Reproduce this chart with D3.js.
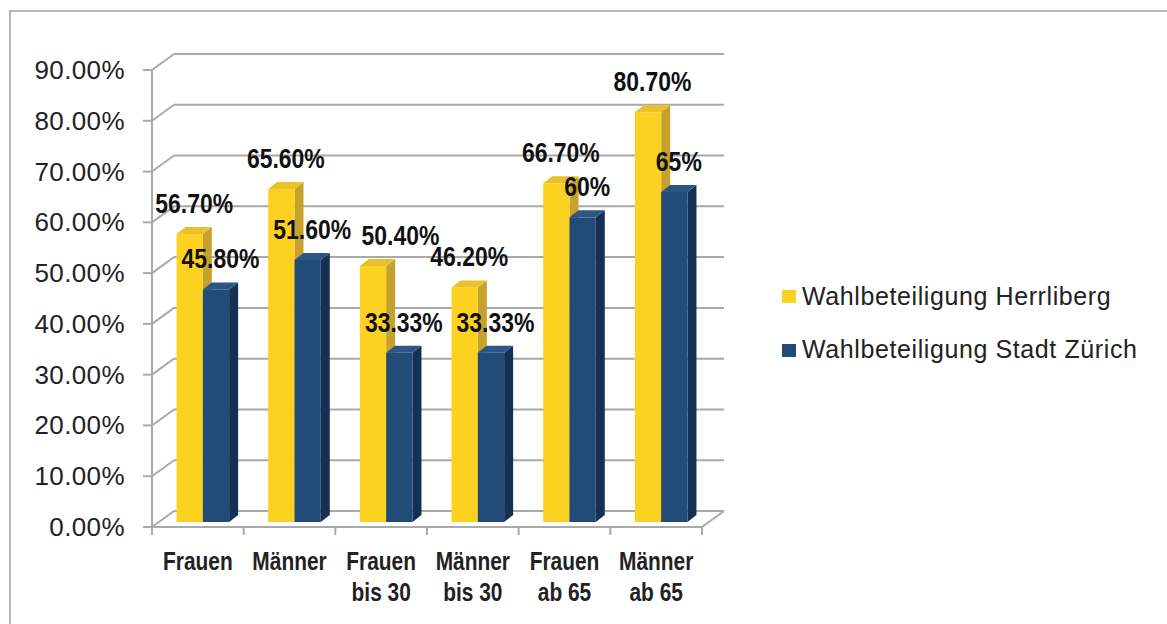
<!DOCTYPE html>
<html>
<head>
<meta charset="utf-8">
<script src="https://cdn.jsdelivr.net/npm/d3@7"></script>
<style>
  body { margin: 0; background: #ffffff; }
  svg { display: block; }
</style>
</head>
<body>
<div id="chart"></div>
<script>
const categories = [['Frauen'], ['Männer'], ['Frauen', 'bis 30'], ['Männer', 'bis 30'], ['Frauen', 'ab 65'], ['Männer', 'ab 65']];
const herrliberg = [56.7, 65.6, 50.4, 46.2, 66.7, 80.7];
const zuerich = [45.8, 51.6, 33.33, 33.33, 60, 65];
const herrlibergLabels = ['56.70%', '65.60%', '50.40%', '46.20%', '66.70%', '80.70%'];
const zuerichLabels = ['45.80%', '51.60%', '33.33%', '33.33%', '60%', '65%'];
const seriesNames = ['Wahlbeteiligung Herrliberg', 'Wahlbeteiligung Stadt Zürich'];
const yTicks = [0, 10, 20, 30, 40, 50, 60, 70, 80, 90];

const W = 1167, H = 624;
const plot = { left: 152, right: 702, top: 70, bottom: 527 };

// 3D offsets: back wall, bar front plane, bar depth
const wall = { dx: 22, dy: -16 };
const barOff = { dx: 5, dy: -5 };
const depth = { dx: 9, dy: -7 };

const colors = [
  { front: '#fdd11f', top: '#e9c22b', side: '#c6a22d' },
  { front: '#224b78', top: '#2c5686', side: '#152f55' }
];

const svg = d3.select('#chart')
  .append('svg')
  .attr('width', W)
  .attr('height', H);

// outer frame
svg.append('rect')
  .attr('x', 10)
  .attr('y', 11)
  .attr('width', W + 20)
  .attr('height', H + 20)
  .attr('fill', 'none')
  .attr('stroke', '#a0a0a0')
  .attr('stroke-width', 1.5);

const x = d3.scaleBand()
  .domain(d3.range(categories.length))
  .range([plot.left, plot.right]);

const y = d3.scaleLinear()
  .domain([0, 90])
  .range([plot.bottom, plot.top]);

const gridColor = '#a9a9a9';
const grid = svg.append('g')
  .attr('fill', 'none')
  .attr('stroke', gridColor)
  .attr('stroke-width', 2);

// back wall lines + diagonals from the front axis
yTicks.forEach(t => {
  grid.append('line')
    .attr('x1', plot.left + wall.dx)
    .attr('x2', plot.right + wall.dx)
    .attr('y1', y(t) + wall.dy)
    .attr('y2', y(t) + wall.dy);
  grid.append('line')
    .attr('x1', plot.left)
    .attr('x2', plot.left + wall.dx)
    .attr('y1', y(t))
    .attr('y2', y(t) + wall.dy);
  grid.append('line')
    .attr('x1', plot.left - 9)
    .attr('x2', plot.left)
    .attr('y1', y(t))
    .attr('y2', y(t));
});

// front axis + floor edge
grid.append('line')
  .attr('x1', plot.left).attr('x2', plot.left)
  .attr('y1', y(90)).attr('y2', y(0));
grid.append('line')
  .attr('x1', plot.left).attr('x2', plot.right)
  .attr('y1', y(0)).attr('y2', y(0));
grid.append('line')
  .attr('x1', plot.right).attr('x2', plot.right + wall.dx)
  .attr('y1', y(0)).attr('y2', y(0) + wall.dy);

// x ticks at category edges
d3.range(categories.length + 1).forEach(i => {
  const xx = plot.left + i * x.bandwidth();
  grid.append('line')
    .attr('x1', xx).attr('x2', xx)
    .attr('y1', y(0)).attr('y2', y(0) + 8);
});

// y axis labels
svg.append('g')
  .selectAll('text')
  .data(yTicks)
  .join('text')
  .attr('x', 125)
  .attr('y', d => y(d) + 9)
  .attr('text-anchor', 'end')
  .attr('font-family', 'Liberation Sans, Arial, sans-serif')
  .attr('font-size', 26)
  .attr('letter-spacing', 0.4)
  .attr('fill', '#222')
  .text(d => d.toFixed(2) + '%');

// bars
const barW = 26.3;
const bars = svg.append('g');
const series = [herrliberg, zuerich];

function drawBar(x0, v, c) {
  const yb = y(0) + barOff.dy;
  const yt = y(v) + barOff.dy;
  const x1 = x0 + barW;
  // side
  bars.append('path')
    .attr('d', `M${x1},${yt}L${x1 + depth.dx},${yt + depth.dy}L${x1 + depth.dx},${yb + depth.dy}L${x1},${yb}Z`)
    .attr('fill', c.side);
  // top
  bars.append('path')
    .attr('d', `M${x0},${yt}L${x0 + depth.dx},${yt + depth.dy}L${x1 + depth.dx},${yt + depth.dy}L${x1},${yt}Z`)
    .attr('fill', c.top);
  // front
  bars.append('rect')
    .attr('x', x0)
    .attr('y', yt)
    .attr('width', barW)
    .attr('height', yb - yt)
    .attr('fill', c.front);
}

categories.forEach((c, i) => {
  const cx = x(i) + x.bandwidth() / 2 + barOff.dx;
  series.forEach((s, j) => {
    drawBar(cx - barW + j * barW, s[i], colors[j]);
  });
});

// condensed bold text: regular bold squeezed horizontally
const labelFont = 'Liberation Sans, Arial, sans-serif';
const squeeze = 0.82;

const labels = svg.append('g')
  .attr('font-family', labelFont)
  .attr('font-weight', 'bold')
  .attr('font-size', 28)
  .attr('fill', '#111')
  .attr('text-anchor', 'middle');

// the "Frauen bis 30" Herrliberg label was moved aside in the original
const nudge = (j, i) => (j === 0 && i === 2 ? 23 : 0);

[herrlibergLabels, zuerichLabels].forEach((lab, j) => {
  lab.forEach((t, i) => {
    const cx = x(i) + x.bandwidth() / 2 + barOff.dx;
    const lx = cx - barW + j * barW + barW / 2 + depth.dx / 2 + nudge(j, i);
    const ly = y(series[j][i]) + barOff.dy - 21;
    labels.append('text')
      .attr('transform', `translate(${lx},${ly}) scale(${squeeze},1)`)
      .text(t);
  });
});

// category labels
const catLabels = svg.append('g')
  .attr('font-family', labelFont)
  .attr('font-weight', 'bold')
  .attr('font-size', 25.5)
  .attr('fill', '#222')
  .attr('text-anchor', 'middle');

categories.forEach((lines, i) => {
  lines.forEach((ln, k) => {
    catLabels.append('text')
      .attr('transform', `translate(${x(i) + x.bandwidth() / 2},${570 + k * 31}) scale(${squeeze},1)`)
      .text(ln);
  });
});

// legend
const legend = svg.append('g')
  .attr('transform', 'translate(782, 290)');

seriesNames.forEach((name, j) => {
  legend.append('rect')
    .attr('x', 0)
    .attr('y', j * 54)
    .attr('width', 14)
    .attr('height', 13)
    .attr('fill', colors[j].front);
  legend.append('text')
    .attr('x', 20)
    .attr('y', j * 53 + 15)
    .attr('font-family', 'Liberation Sans, Arial, sans-serif')
    .attr('font-size', 25)
    .attr('letter-spacing', 0.6)
    .attr('fill', '#222')
    .text(name);
});
</script>
</body>
</html>
